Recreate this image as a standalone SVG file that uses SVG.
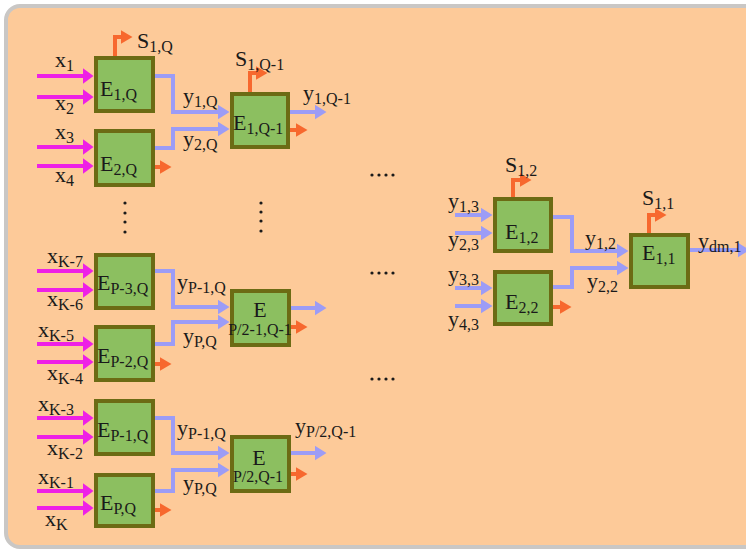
<svg xmlns="http://www.w3.org/2000/svg" width="746" height="554" viewBox="0 0 746 554">
<defs>
<style>
.box{fill:#8CBF60;stroke:#6C6B14;stroke-width:4}
.t{font-family:"Liberation Serif","DejaVu Serif",serif;font-size:22px;fill:#1a1a1a}
.s{font-size:16px}
.b{fill:none;stroke:#9C9CF6;stroke-width:4}
.mg{fill:none;stroke:#EE20E6;stroke-width:4}
.o{fill:none;stroke:#F7682E;stroke-width:4}
.dot{fill:#1a1a1a}
</style>
<marker id="hb" markerUnits="userSpaceOnUse" markerWidth="13" markerHeight="15" refX="0.5" refY="7.5" orient="auto"><path d="M0,0 L12,7.5 L0,15 z" fill="#9C9CF6"/></marker>
<marker id="hm" markerUnits="userSpaceOnUse" markerWidth="12" markerHeight="16" refX="0.5" refY="8" orient="auto"><path d="M0,0 L11,8 L0,16 z" fill="#EE20E6"/></marker>
<marker id="ho" markerUnits="userSpaceOnUse" markerWidth="13" markerHeight="14" refX="0.5" refY="7" orient="auto"><path d="M0,0 L12,7 L0,14 z" fill="#F7682E"/></marker>
</defs>
<rect x="0" y="0" width="746" height="554" fill="#ffffff"/>
<rect x="6" y="6" width="770" height="541" rx="14" fill="#FDCA99" stroke="#C9C7C5" stroke-width="4"/>

<g id="connectors">
<path class="mg" marker-end="url(#hm)" d="M37,76 H83"/>
<path class="mg" marker-end="url(#hm)" d="M37,97 H83"/>
<path class="mg" marker-end="url(#hm)" d="M37,147 H83"/>
<path class="mg" marker-end="url(#hm)" d="M37,166 H83"/>
<path class="mg" marker-end="url(#hm)" d="M37,271 H83"/>
<path class="mg" marker-end="url(#hm)" d="M37,290 H83"/>
<path class="mg" marker-end="url(#hm)" d="M37,344 H83"/>
<path class="mg" marker-end="url(#hm)" d="M37,362 H83"/>
<path class="mg" marker-end="url(#hm)" d="M37,418 H83"/>
<path class="mg" marker-end="url(#hm)" d="M37,437 H83"/>
<path class="mg" marker-end="url(#hm)" d="M37,491 H83"/>
<path class="mg" marker-end="url(#hm)" d="M37,508 H83"/>
<path class="b" marker-end="url(#hb)" d="M155,76 H173 V112 H218"/>
<path class="b" marker-end="url(#hb)" d="M155,148 H173 V129 H218"/>
<path class="b" marker-end="url(#hb)" d="M155,271 H173 V307 H218"/>
<path class="b" marker-end="url(#hb)" d="M155,344 H173 V322 H218"/>
<path class="b" marker-end="url(#hb)" d="M155,418 H173 V453 H218"/>
<path class="b" marker-end="url(#hb)" d="M155,491 H173 V470 H218"/>
<path class="b" marker-end="url(#hb)" d="M290,112 H315"/>
<path class="b" marker-end="url(#hb)" d="M291,308 H315"/>
<path class="b" marker-end="url(#hb)" d="M291,453 H315"/>
<path class="b" marker-end="url(#hb)" d="M455,215 H481"/>
<path class="b" marker-end="url(#hb)" d="M455,233 H481"/>
<path class="b" marker-end="url(#hb)" d="M455,288 H481"/>
<path class="b" marker-end="url(#hb)" d="M455,306 H481"/>
<path class="b" marker-end="url(#hb)" d="M553,217 H572 V251 H617"/>
<path class="b" marker-end="url(#hb)" d="M553,287 H572 V268 H617"/>
<path class="b" marker-end="url(#hb)" d="M690,250 H738"/>
<path class="o" marker-end="url(#ho)" d="M115,56 V37 H121"/>
<path class="o" marker-end="url(#ho)" d="M250,92 V73 H256"/>
<path class="o" marker-end="url(#ho)" d="M513,197 V180 H520"/>
<path class="o" marker-end="url(#ho)" d="M649,233 V215 H655"/>
<path class="o" marker-end="url(#ho)" d="M155,167 H160"/>
<path class="o" marker-end="url(#ho)" d="M155,364 H160"/>
<path class="o" marker-end="url(#ho)" d="M155,510 H160"/>
<path class="o" marker-end="url(#ho)" d="M290,130 H296"/>
<path class="o" marker-end="url(#ho)" d="M291,327 H296"/>
<path class="o" marker-end="url(#ho)" d="M291,474 H296"/>
<path class="o" marker-end="url(#ho)" d="M553,307 H560"/>
</g>

<g id="E1Q"><rect class="box" x="96" y="58" width="57" height="53"/><text class="t" x="100" y="96">E<tspan class="s" dy="4">1,Q</tspan></text></g>
<g id="E2Q"><rect class="box" x="96" y="131" width="57" height="54"/><text class="t" x="100" y="171">E<tspan class="s" dy="4">2,Q</tspan></text></g>
<g id="EP3Q"><rect class="box" x="96" y="255" width="57" height="53"/><text class="t" x="97" y="290">E<tspan class="s" dy="4">P-3,Q</tspan></text></g>
<g id="EP2Q"><rect class="box" x="96" y="327" width="57" height="53"/><text class="t" x="97" y="363">E<tspan class="s" dy="4">P-2,Q</tspan></text></g>
<g id="EP1Q"><rect class="box" x="96" y="401" width="57" height="53"/><text class="t" x="97" y="437">E<tspan class="s" dy="4">P-1,Q</tspan></text></g>
<g id="EPQ"><rect class="box" x="96" y="475" width="57" height="51"/><text class="t" x="100" y="510">E<tspan class="s" dy="4">P,Q</tspan></text></g>
<g id="E1Q1"><rect class="box" x="232" y="94" width="56" height="53"/><text class="t" x="233" y="130">E<tspan class="s" dy="4">1,Q-1</tspan></text></g>
<g id="EP21Q1"><rect class="box" x="232" y="291" width="57" height="54"/><text class="t" x="260" y="317" text-anchor="middle">E</text><text class="t s" x="260" y="335" text-anchor="middle">P/2-1,Q-1</text></g>
<g id="EP2Q1"><rect class="box" x="232" y="437" width="57" height="54"/><text class="t" x="259" y="465" text-anchor="middle">E</text><text class="t s" x="258" y="482" text-anchor="middle">P/2,Q-1</text></g>
<g id="E12"><rect class="box" x="495" y="199" width="56" height="52"/><text class="t" x="505" y="239">E<tspan class="s" dy="4">1,2</tspan></text></g>
<g id="E22"><rect class="box" x="495" y="272" width="56" height="52"/><text class="t" x="505" y="309">E<tspan class="s" dy="4">2,2</tspan></text></g>
<g id="E11"><rect class="box" x="631" y="235" width="57" height="52"/><text class="t" x="642" y="260">E<tspan class="s" dy="4">1,1</tspan></text></g>

<g id="labels">
<text class="t" x="55" y="67">x<tspan class="s" dy="4">1</tspan></text>
<text class="t" x="55" y="110">x<tspan class="s" dy="4">2</tspan></text>
<text class="t" x="55" y="139">x<tspan class="s" dy="4">3</tspan></text>
<text class="t" x="55" y="182">x<tspan class="s" dy="4">4</tspan></text>
<text class="t" x="47" y="263">x<tspan class="s" dy="4">K-7</tspan></text>
<text class="t" x="47" y="306">x<tspan class="s" dy="4">K-6</tspan></text>
<text class="t" x="38" y="337">x<tspan class="s" dy="4">K-5</tspan></text>
<text class="t" x="47" y="380">x<tspan class="s" dy="4">K-4</tspan></text>
<text class="t" x="38" y="411">x<tspan class="s" dy="4">K-3</tspan></text>
<text class="t" x="47" y="455">x<tspan class="s" dy="4">K-2</tspan></text>
<text class="t" x="38" y="484">x<tspan class="s" dy="4">K-1</tspan></text>
<text class="t" x="45" y="526">x<tspan class="s" dy="4">K</tspan></text>
<text class="t" x="137" y="48">S<tspan class="s" dy="4">1,Q</tspan></text>
<text class="t" x="235" y="66">S<tspan class="s" dy="4">1,Q-1</tspan></text>
<text class="t" x="183" y="103">y<tspan class="s" dy="4">1,Q</tspan></text>
<text class="t" x="183" y="146">y<tspan class="s" dy="4">2,Q</tspan></text>
<text class="t" x="303" y="100">y<tspan class="s" dy="4">1,Q-1</tspan></text>
<text class="t" x="177" y="289">y<tspan class="s" dy="4">P-1,Q</tspan></text>
<text class="t" x="183" y="343">y<tspan class="s" dy="4">P,Q</tspan></text>
<text class="t" x="177" y="435">y<tspan class="s" dy="4">P-1,Q</tspan></text>
<text class="t" x="183" y="490">y<tspan class="s" dy="4">P,Q</tspan></text>
<text class="t" x="295" y="433">y<tspan class="s" dy="4">P/2,Q-1</tspan></text>
<text class="t" x="505" y="172">S<tspan class="s" dy="4">1,2</tspan></text>
<text class="t" x="448" y="208">y<tspan class="s" dy="4">1,3</tspan></text>
<text class="t" x="448" y="246">y<tspan class="s" dy="4">2,3</tspan></text>
<text class="t" x="448" y="281">y<tspan class="s" dy="4">3,3</tspan></text>
<text class="t" x="448" y="326">y<tspan class="s" dy="4">4,3</tspan></text>
<text class="t" x="585" y="245">y<tspan class="s" dy="4">1,2</tspan></text>
<text class="t" x="587" y="288">y<tspan class="s" dy="4">2,2</tspan></text>
<text class="t" x="642" y="205">S<tspan class="s" dy="4">1,1</tspan></text>
<text class="t" x="698" y="248">y<tspan class="s" dy="4">dm,1</tspan></text>
</g>

<g id="dots">
<circle class="dot" cx="125" cy="203" r="1.6"/><circle class="dot" cx="125" cy="213" r="1.6"/><circle class="dot" cx="125" cy="222" r="1.6"/><circle class="dot" cx="125" cy="232" r="1.6"/>
<circle class="dot" cx="261" cy="203" r="1.6"/><circle class="dot" cx="261" cy="212" r="1.6"/><circle class="dot" cx="261" cy="221" r="1.6"/><circle class="dot" cx="261" cy="231" r="1.6"/>
<circle class="dot" cx="372" cy="175" r="1.6"/><circle class="dot" cx="379" cy="175" r="1.6"/><circle class="dot" cx="386" cy="175" r="1.6"/><circle class="dot" cx="393" cy="175" r="1.6"/>
<circle class="dot" cx="372" cy="273" r="1.6"/><circle class="dot" cx="379" cy="273" r="1.6"/><circle class="dot" cx="386" cy="273" r="1.6"/><circle class="dot" cx="393" cy="273" r="1.6"/>
<circle class="dot" cx="372" cy="379" r="1.6"/><circle class="dot" cx="379" cy="379" r="1.6"/><circle class="dot" cx="386" cy="379" r="1.6"/><circle class="dot" cx="393" cy="379" r="1.6"/>
</g>
</svg>
